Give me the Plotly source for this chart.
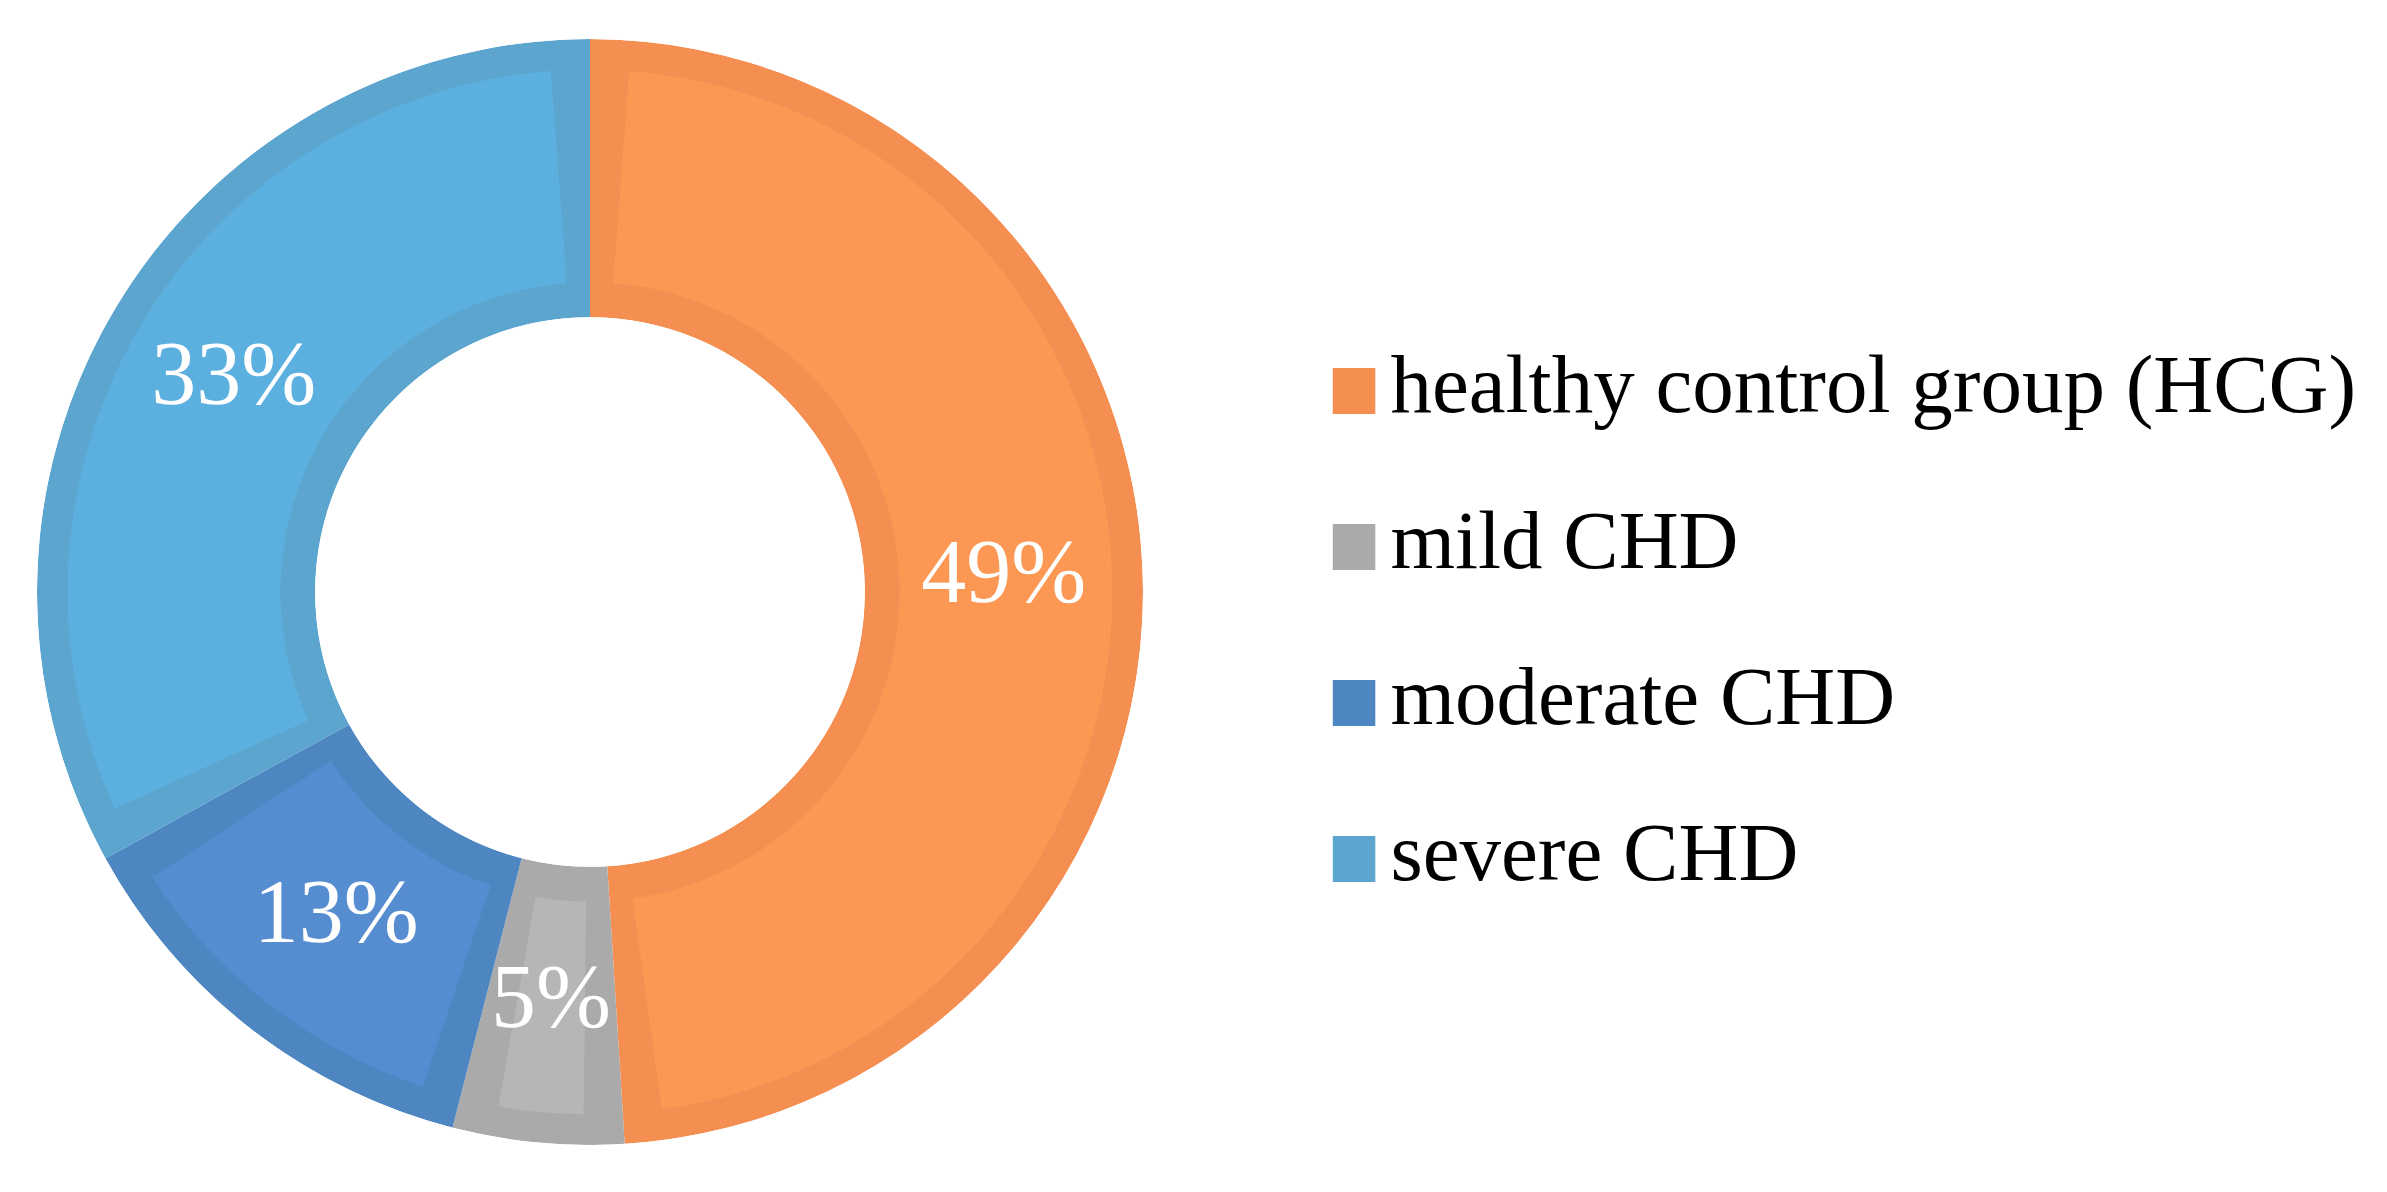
import plotly.graph_objects as go
import numpy as np

labels = ["healthy control group (HCG)", "mild CHD", "moderate CHD", "severe CHD"]
values = [49, 5, 13, 33]
text_labels = ["49%", "5%", "13%", "33%"]
fill_colors = ["#FD9854", "#B6B6B6", "#568DD0", "#5CB0E0"]
band_colors = ["#F48F51", "#AAAAAA", "#4E86C2", "#5BA5CF"]

vals = np.array(values, dtype=float)
total = vals.sum()
widths = vals / total * 360.0
ends = np.cumsum(widths)
centers = ends - widths / 2

inset_deg = 4.3      # angular inset of the lighter fill
inner_band = 0.125   # radial band (fraction of ring thickness) at hole side
outer_band = 0.11    # radial band at outer side

fig = go.Figure()

# darker base ring
fig.add_trace(go.Barpolar(
    r=[1.0] * len(values), theta=centers, width=widths, base=0,
    marker=dict(color=band_colors, line=dict(width=0)),
    hoverinfo="skip", showlegend=False, subplot="polar",
))
# lighter inset fill
fig.add_trace(go.Barpolar(
    r=[1.0 - inner_band - outer_band] * len(values), theta=centers,
    width=widths - 2 * inset_deg, base=inner_band,
    marker=dict(color=fill_colors, line=dict(width=0)),
    hoverinfo="skip", showlegend=False, subplot="polar",
))
# percentage labels
fig.add_trace(go.Scatterpolar(
    r=[0.5] * len(values), theta=centers, mode="text", text=text_labels,
    textposition="middle center",
    textfont=dict(family="Liberation Serif", size=90, color="white"),
    hoverinfo="skip", showlegend=False, subplot="polar",
))

# custom legend: squares
fig.add_trace(go.Scatter(
    x=[0] * len(labels), y=labels, mode="markers",
    marker=dict(symbol="square", size=46, color=band_colors, line=dict(width=0)),
    hoverinfo="skip", showlegend=False, xaxis="x", yaxis="y",
))
# custom legend: texts
fig.add_trace(go.Scatter(
    x=[0.195] * len(labels), y=labels, mode="text", text=labels,
    textposition="middle right",
    textfont=dict(family="Liberation Serif", size=83, color="black"),
    hoverinfo="skip", showlegend=False, xaxis="x", yaxis="y",
))

W, H = 2387, 1192
cx, cy, R = 582, 584, 553
fig.update_layout(
    width=W, height=H,
    margin=dict(l=0, r=0, t=0, b=0),
    paper_bgcolor="white", plot_bgcolor="rgba(0,0,0,0)",
    polar=dict(
        domain=dict(x=[(cx - R) / W, (cx + R) / W], y=[(H - cy - R) / H, (H - cy + R) / H]),
        hole=0.497,
        bgcolor="white",
        radialaxis=dict(range=[0, 1], visible=False, showgrid=False),
        angularaxis=dict(direction="clockwise", rotation=90, visible=False, showgrid=False),
        bargap=0,
    ),
    xaxis=dict(domain=[0.555, 1.0], range=[-0.1, 5.34], visible=False, fixedrange=True),
    yaxis=dict(domain=[0, 1], type="category", range=[5.186, -2.455], visible=False, fixedrange=True),
    showlegend=False,
)

fig.write_html("out.html")
